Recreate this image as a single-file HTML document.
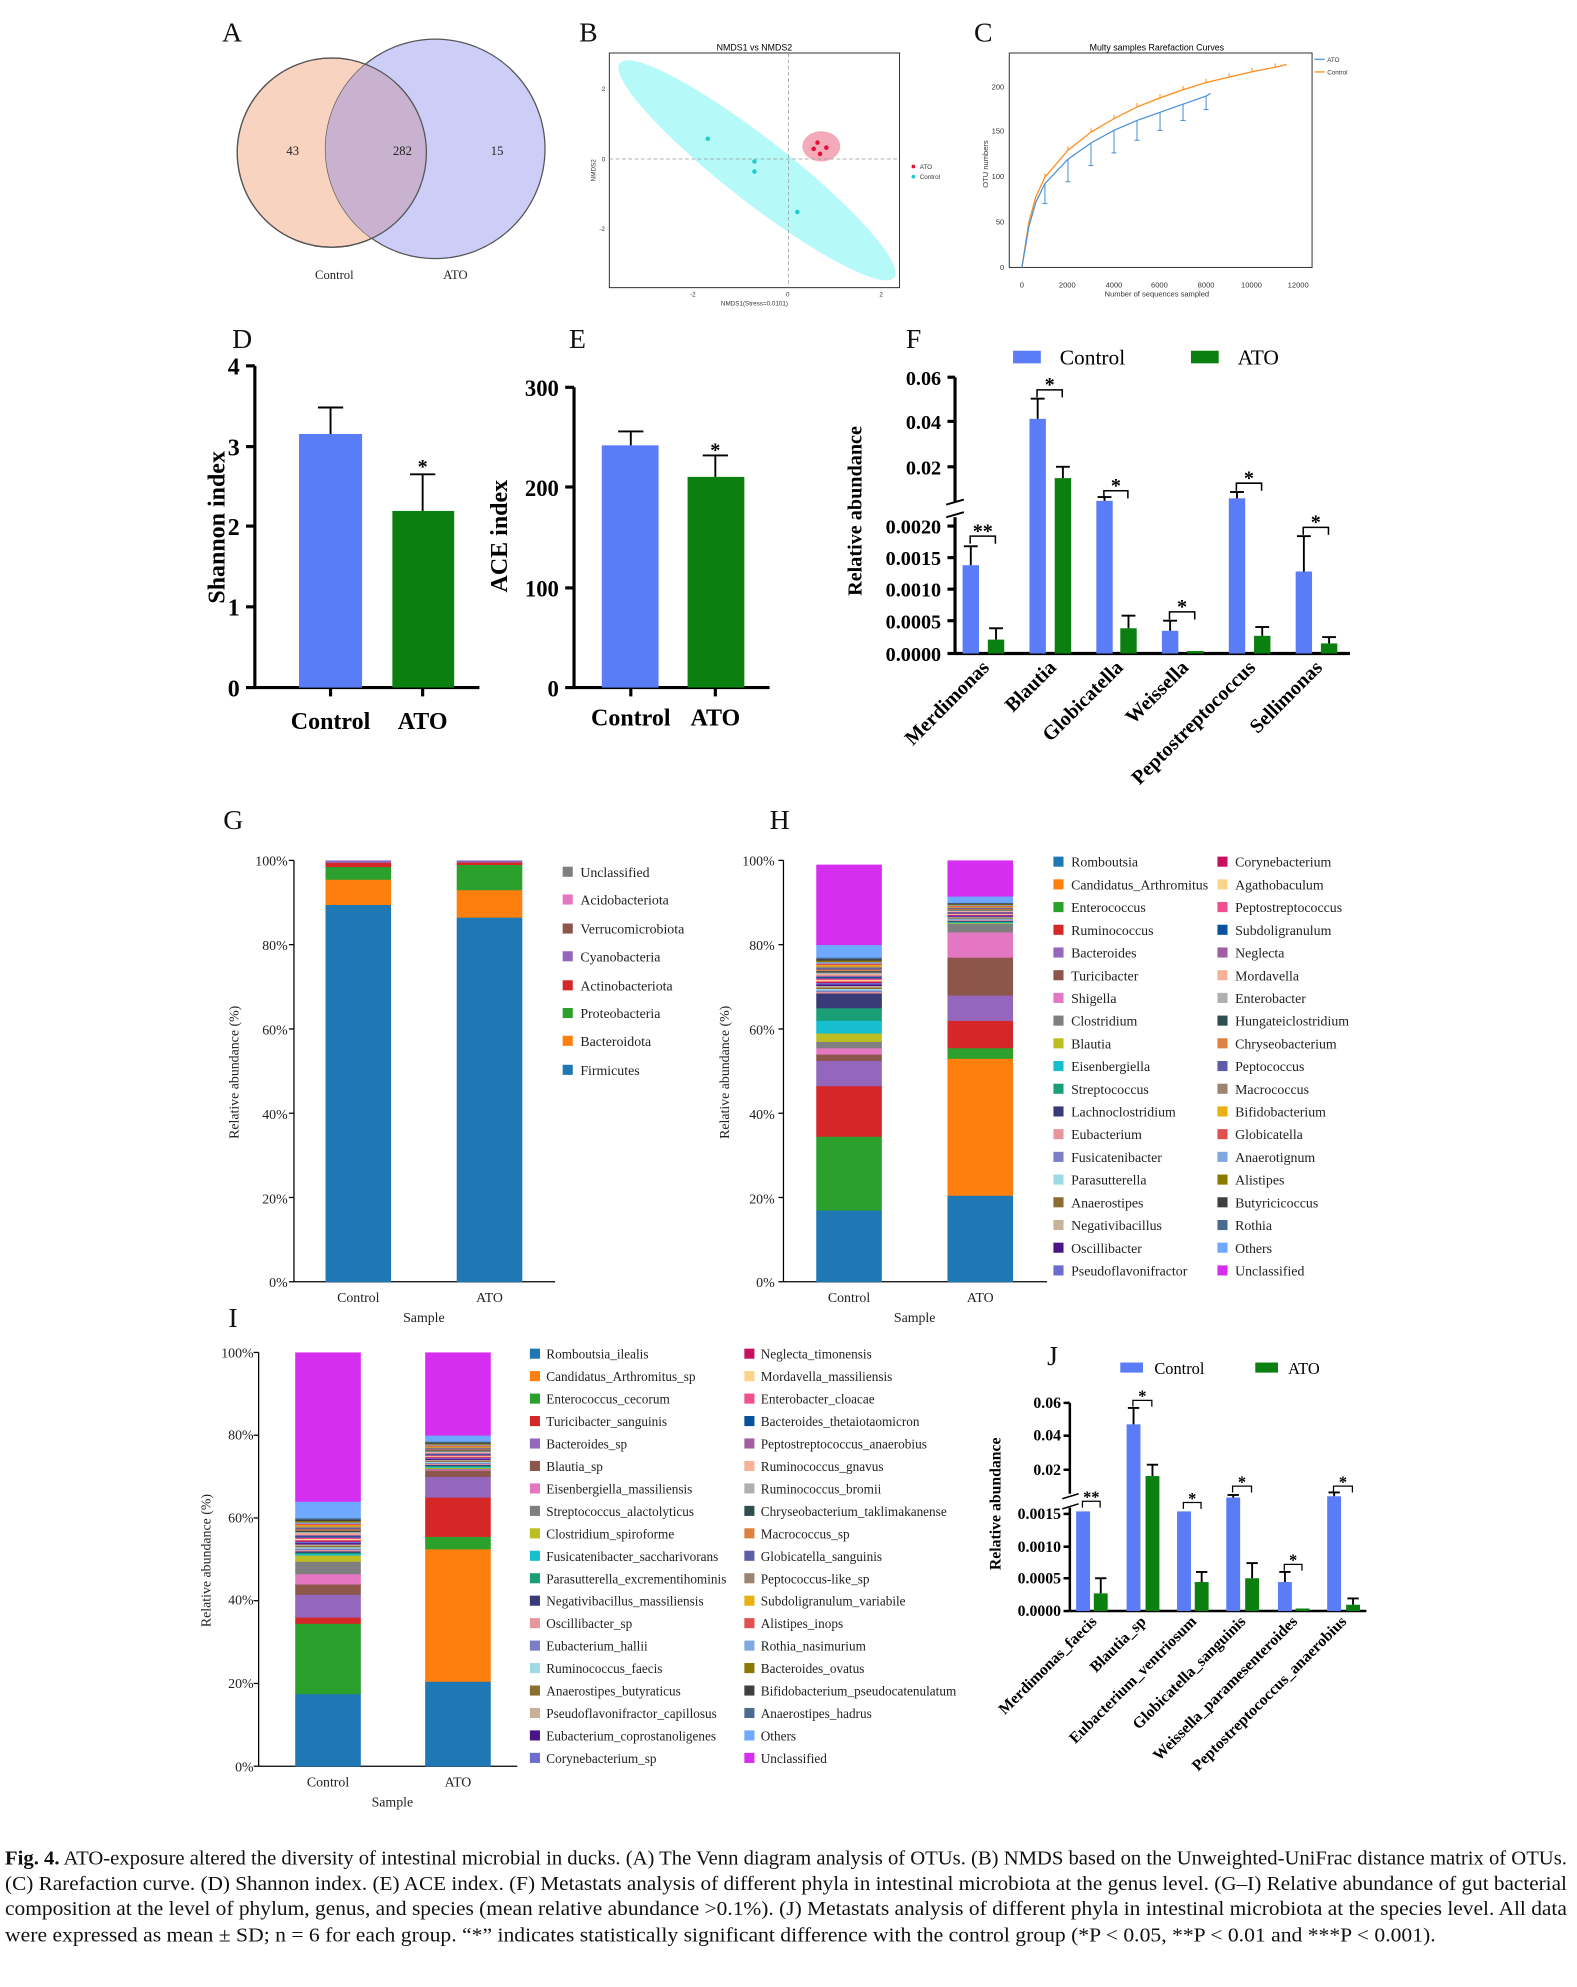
<!DOCTYPE html>
<html><head><meta charset="utf-8">
<style>
html,body{margin:0;padding:0;background:#fff;}
svg{display:block;}
.s{font-family:"Liberation Serif",serif;}
.b{font-family:"Liberation Serif",serif;font-weight:bold;}
.a{font-family:"Liberation Sans",sans-serif;}
</style></head><body>
<svg id="g" width="1577" height="1987" viewBox="0 0 1250 1575" xmlns="http://www.w3.org/2000/svg">
<rect width="1250" height="1575" fill="#fff"/>
<g class="s" font-size="22" fill="#111">
<text x="176" y="33">A</text><text x="459" y="33">B</text><text x="772" y="33">C</text>
<text x="184" y="276">D</text><text x="451" y="276">E</text><text x="718" y="276">F</text>
<text x="177" y="657">G</text><text x="610" y="657">H</text><text x="181" y="1052">I</text><text x="830" y="1082">J</text>
</g>
<circle cx="263" cy="121" r="75" fill="#f8d3bf" stroke="#555" stroke-width="1"/>
<circle cx="345" cy="118" r="87" fill="#c6c9f6" stroke="#555" stroke-width="1" fill-opacity="0.9"/>
<clipPath id="cl"><circle cx="263" cy="121" r="75"/></clipPath>
<circle cx="345" cy="118" r="87" fill="#c9b2cf" clip-path="url(#cl)"/>
<circle cx="263" cy="121" r="75" fill="none" stroke="#555"/>
<g class="s" font-size="10" fill="#222" text-anchor="middle">
<text x="232" y="123">43</text><text x="319" y="123">282</text><text x="394" y="123">15</text>
<text x="265" y="221">Control</text><text x="361" y="221">ATO</text></g>
<rect x="483" y="42" width="230" height="186" fill="#fff" stroke="#333" stroke-width="0.8"/>
<text x="598" y="40" class="a" font-size="7" text-anchor="middle">NMDS1 vs NMDS2</text>
<ellipse cx="600" cy="135" rx="138" ry="25" transform="rotate(38 600 135)" fill="#a8f8f8" fill-opacity="0.85"/>
<ellipse cx="651" cy="116" rx="15" ry="12" fill="#f4aab8"/>
<line x1="625" y1="42" x2="625" y2="228" stroke="#999" stroke-dasharray="3,2" stroke-width="0.6"/>
<line x1="483" y1="126" x2="713" y2="126" stroke="#999" stroke-dasharray="3,2" stroke-width="0.6"/>
<g fill="#22cccc"><circle cx="561" cy="110" r="1.8"/><circle cx="598" cy="128" r="1.8"/><circle cx="598" cy="136" r="1.8"/><circle cx="632" cy="168" r="1.8"/></g>
<g fill="#e0103a"><circle cx="648" cy="113" r="1.8"/><circle cx="655" cy="117" r="1.8"/><circle cx="650" cy="122" r="1.8"/><circle cx="645" cy="118" r="1.8"/></g>
<circle cx="724" cy="132" r="1.5" fill="#e0103a"/><circle cx="724" cy="140" r="1.5" fill="#22cccc"/>
<g class="a" font-size="5" fill="#333"><text x="729" y="134">ATO</text><text x="729" y="142">Control</text>
<text x="477" y="72">2</text><text x="477" y="128">0</text><text x="475" y="183">-2</text>
<text x="547" y="235">-2</text><text x="623" y="235">0</text><text x="697" y="235">2</text>
<text x="598" y="242" text-anchor="middle">NMDS1(Stress=0.0101)</text>
<text transform="translate(472 135) rotate(-90)" text-anchor="middle">NMDS2</text></g>
<rect x="800" y="42" width="240" height="170" fill="#fff" stroke="#333" stroke-width="0.8"/>
<text x="917" y="40" class="a" font-size="7" text-anchor="middle">Multy samples Rarefaction Curves</text>
<g class="a" font-size="6" fill="#333" text-anchor="end">
<text x="796" y="214">0</text><text x="796" y="178">50</text><text x="796" y="142">100</text><text x="796" y="106">150</text><text x="796" y="71">200</text></g>
<g class="a" font-size="6" fill="#333" text-anchor="middle">
<text x="810" y="228">0</text><text x="846" y="228">2000</text><text x="883" y="228">4000</text><text x="919" y="228">6000</text><text x="956" y="228">8000</text><text x="992" y="228">10000</text><text x="1029" y="228">12000</text>
<text x="917" y="235">Number of sequences sampled</text>
<text transform="translate(783 130) rotate(-90)">OTU numbers</text></g>
<line x1="1042" y1="47" x2="1050" y2="47" stroke="#4a90d9"/><line x1="1042" y1="57" x2="1050" y2="57" stroke="#ff8c1a"/>
<g class="a" font-size="5" fill="#333"><text x="1052" y="49">ATO</text><text x="1052" y="59">Control</text></g>
<g id="rare"></g>
<g stroke="#000" stroke-width="2.5" fill="none">
<polyline points="202,290 202,545 380,545"/>
<line x1="195" y1="290" x2="202" y2="290"/><line x1="195" y1="354" x2="202" y2="354"/><line x1="195" y1="417" x2="202" y2="417"/><line x1="195" y1="481" x2="202" y2="481"/><line x1="195" y1="545" x2="202" y2="545"/>
<line x1="262" y1="545" x2="262" y2="552"/><line x1="335" y1="545" x2="335" y2="552"/>
</g>
<rect x="237" y="344" width="50" height="201" fill="#5b7cf7"/>
<rect x="311" y="405" width="49" height="140" fill="#0b7f10"/>
<g stroke="#000" stroke-width="1.5"><line x1="262" y1="344" x2="262" y2="323"/><line x1="252" y1="323" x2="272" y2="323"/><line x1="335" y1="405" x2="335" y2="376"/><line x1="325" y1="376" x2="345" y2="376"/></g>
<g class="b" font-size="19" text-anchor="end"><text x="190" y="297">4</text><text x="190" y="361">3</text><text x="190" y="424">2</text><text x="190" y="488">1</text><text x="190" y="552">0</text></g>
<text x="335" y="375" class="b" font-size="16" text-anchor="middle">*</text>
<g class="b" font-size="19" text-anchor="middle"><text x="262" y="578">Control</text><text x="335" y="578">ATO</text>
<text transform="translate(178 418) rotate(-90)">Shannon index</text></g>
<g stroke="#000" stroke-width="2.5" fill="none">
<polyline points="455,307 455,545 610,545"/>
<line x1="448" y1="307" x2="455" y2="307"/><line x1="448" y1="386" x2="455" y2="386"/><line x1="448" y1="466" x2="455" y2="466"/><line x1="448" y1="545" x2="455" y2="545"/>
<line x1="500" y1="545" x2="500" y2="552"/><line x1="567" y1="545" x2="567" y2="552"/></g>
<rect x="477" y="353" width="45" height="192" fill="#5b7cf7"/>
<rect x="545" y="378" width="45" height="167" fill="#0b7f10"/>
<g stroke="#000" stroke-width="1.5"><line x1="500" y1="353" x2="500" y2="342"/><line x1="490" y1="342" x2="510" y2="342"/><line x1="567" y1="378" x2="567" y2="361"/><line x1="557" y1="361" x2="577" y2="361"/></g>
<g class="b" font-size="18" text-anchor="end"><text x="443" y="314">300</text><text x="443" y="393">200</text><text x="443" y="473">100</text><text x="443" y="552">0</text></g>
<text x="567" y="362" class="b" font-size="16" text-anchor="middle">*</text>
<g class="b" font-size="19" text-anchor="middle"><text x="500" y="575">Control</text><text x="567" y="575">ATO</text>
<text transform="translate(402 425) rotate(-90)">ACE index</text></g>
<g id="F"></g>
<rect x="803" y="278" width="22" height="10" fill="#5b7cf7"/><rect x="944" y="278" width="22" height="10" fill="#0b7f10"/>
<g class="s" font-size="17"><text x="840" y="289">Control</text><text x="981" y="289">ATO</text></g>
<g class="b" font-size="16" text-anchor="end">
<text x="746" y="305">0.06</text><text x="746" y="340">0.04</text><text x="746" y="376">0.02</text>
<text x="746" y="423">0.0020</text><text x="746" y="448">0.0015</text><text x="746" y="473">0.0010</text><text x="746" y="498">0.0005</text><text x="746" y="524">0.0000</text>
<text transform="translate(683 405) rotate(-90)" text-anchor="middle">Relative abundance</text>
<text transform="translate(785 530) rotate(-45)">Merdimonas</text>
<text transform="translate(838 530) rotate(-45)">Blautia</text>
<text transform="translate(891 530) rotate(-45)">Globicatella</text>
<text transform="translate(943 530) rotate(-45)">Weissella</text>
<text transform="translate(996 530) rotate(-45)">Peptostreptococcus</text>
<text transform="translate(1049 530) rotate(-45)">Sellimonas</text></g>
<g id="G"></g>
<g class="s" font-size="11" fill="#222">
<text x="228" y="686" text-anchor="end">100%</text><text x="228" y="753" text-anchor="end">80%</text><text x="228" y="820" text-anchor="end">60%</text><text x="228" y="887" text-anchor="end">40%</text><text x="228" y="954" text-anchor="end">20%</text><text x="228" y="1020" text-anchor="end">0%</text>
<text x="284" y="1032" text-anchor="middle">Control</text><text x="388" y="1032" text-anchor="middle">ATO</text><text x="336" y="1048" text-anchor="middle">Sample</text>
<text transform="translate(189 850) rotate(-90)" text-anchor="middle">Relative abundance (%)</text>
<text x="460" y="695">Unclassified</text><text x="460" y="717">Acidobacteriota</text><text x="460" y="740">Verrucomicrobiota</text><text x="460" y="762">Cyanobacteria</text><text x="460" y="785">Actinobacteriota</text><text x="460" y="807">Proteobacteria</text><text x="460" y="829">Bacteroidota</text><text x="460" y="852">Firmicutes</text>
</g>
<g><rect x="446" y="687" width="8" height="8" fill="#7f7f7f"/><rect x="446" y="709" width="8" height="8" fill="#e377c2"/><rect x="446" y="732" width="8" height="8" fill="#8c564b"/><rect x="446" y="754" width="8" height="8" fill="#9467bd"/><rect x="446" y="777" width="8" height="8" fill="#d62728"/><rect x="446" y="799" width="8" height="8" fill="#2ca02c"/><rect x="446" y="821" width="8" height="8" fill="#ff7f0e"/><rect x="446" y="844" width="8" height="8" fill="#1f77b4"/></g>
<g id="H"></g>
<g class="s" font-size="11" fill="#222">
<text x="614" y="686" text-anchor="end">100%</text><text x="614" y="753" text-anchor="end">80%</text><text x="614" y="820" text-anchor="end">60%</text><text x="614" y="887" text-anchor="end">40%</text><text x="614" y="954" text-anchor="end">20%</text><text x="614" y="1020" text-anchor="end">0%</text>
<text x="673" y="1032" text-anchor="middle">Control</text><text x="777" y="1032" text-anchor="middle">ATO</text><text x="725" y="1048" text-anchor="middle">Sample</text>
<text transform="translate(578 850) rotate(-90)" text-anchor="middle">Relative abundance (%)</text>
</g>
<g id="HL" class="s" font-size="11" fill="#222"></g>
<g id="I"></g>
<g class="s" font-size="11" fill="#222">
<text x="201" y="1076" text-anchor="end">100%</text><text x="201" y="1141" text-anchor="end">80%</text><text x="201" y="1207" text-anchor="end">60%</text><text x="201" y="1272" text-anchor="end">40%</text><text x="201" y="1338" text-anchor="end">20%</text><text x="201" y="1404" text-anchor="end">0%</text>
<text x="260" y="1416" text-anchor="middle">Control</text><text x="363" y="1416" text-anchor="middle">ATO</text><text x="311" y="1432" text-anchor="middle">Sample</text>
<text transform="translate(167 1237) rotate(-90)" text-anchor="middle">Relative abundance (%)</text>
</g>
<g id="IL" class="s" font-size="10.5" fill="#222"></g>
<g id="J"></g>
<rect x="888" y="1080" width="18" height="8" fill="#5b7cf7"/><rect x="995" y="1080" width="18" height="8" fill="#0b7f10"/>
<g class="s" font-size="13"><text x="915" y="1089">Control</text><text x="1021" y="1089">ATO</text></g>
<g class="b" font-size="12.5" text-anchor="end">
<text x="841" y="1116">0.06</text><text x="841" y="1142">0.04</text><text x="841" y="1169">0.02</text>
<text x="841" y="1204">0.0015</text><text x="841" y="1230">0.0010</text><text x="841" y="1255">0.0005</text><text x="841" y="1281">0.0000</text>
<text transform="translate(793 1192) rotate(-90)" text-anchor="middle">Relative abundance</text>
<text transform="translate(870 1286) rotate(-45)">Merdimonas_faecis</text>
<text transform="translate(909 1286) rotate(-45)">Blautia_sp</text>
<text transform="translate(949 1286) rotate(-45)">Eubacterium_ventriosum</text>
<text transform="translate(988 1286) rotate(-45)">Globicatella_sanguinis</text>
<text transform="translate(1029 1286) rotate(-45)">Weissella_paramesenteroides</text>
<text transform="translate(1068 1286) rotate(-45)">Peptostreptococcus_anaerobius</text></g>
<g font-family="Liberation Serif, serif" font-size="16" fill="#111">
<text x="4" y="1478" textLength="1238" lengthAdjust="spacingAndGlyphs"><tspan font-weight="bold">Fig. 4.</tspan> ATO-exposure altered the diversity of intestinal microbial in ducks. (A) The Venn diagram analysis of OTUs. (B) NMDS based on the Unweighted-UniFrac distance matrix of OTUs.</text>
<text x="4" y="1498" textLength="1238" lengthAdjust="spacingAndGlyphs">(C) Rarefaction curve. (D) Shannon index. (E) ACE index. (F) Metastats analysis of different phyla in intestinal microbiota at the genus level. (G–I) Relative abundance of gut bacterial</text>
<text x="4" y="1518" textLength="1238" lengthAdjust="spacingAndGlyphs">composition at the level of phylum, genus, and species (mean relative abundance &gt;0.1%). (J) Metastats analysis of different phyla in intestinal microbiota at the species level. All data</text>
<text x="4" y="1539" textLength="1134" lengthAdjust="spacingAndGlyphs">were expressed as mean ± SD; n = 6 for each group. “*” indicates statistically significant difference with the control group (*P &lt; 0.05, **P &lt; 0.01 and ***P &lt; 0.001).</text>
</g>
</svg>
<script>
var NS="http://www.w3.org/2000/svg";
function el(p,t,a){var e=document.createElementNS(NS,t);for(var k in a)e.setAttribute(k,a[k]);document.getElementById(p).appendChild(e);return e;}
function R(p,x,y,w,h,f){el(p,"rect",{x:x,y:y,width:w,height:h,fill:f});}
function L(p,x1,y1,x2,y2,w){el(p,"line",{x1:x1,y1:y1,x2:x2,y2:y2,stroke:"#000","stroke-width":w||1});}
function T(p,x,y,s,fs){var e=el(p,"text",{x:x,y:y,"text-anchor":"middle","font-size":fs,"font-family":"Liberation Serif,serif","font-weight":"bold"});e.textContent=s;}
var cx=function(v){return 810+v*0.01825},cy=function(v){return 212-v*0.715};
var o=[[0,0],[300,50],[600,78],[1000,100],[2000,130],[3000,150],[4000,165],[5000,178],[6000,188],[7000,197],[8000,205],[9000,211],[10000,217],[11000,222],[11500,225]];
var b=[[0,0],[300,45],[600,72],[1000,93],[2000,120],[3000,138],[4000,152],[5000,163],[6000,172],[7000,181],[8000,190],[8200,193]];
el("rare","polyline",{points:o.map(function(p){return cx(p[0])+","+cy(p[1])}).join(" "),fill:"none",stroke:"#ff8c1a","stroke-width":1});
el("rare","polyline",{points:b.map(function(p){return cx(p[0])+","+cy(p[1])}).join(" "),fill:"none",stroke:"#4a90d9","stroke-width":1});
[1000,2000,3000,4000,5000,6000,7000,8000].forEach(function(x,i){var y=b.filter(function(p){return p[0]==x})[0][1];var e=[22,25,25,25,22,20,18,15][i];
el("rare","line",{x1:cx(x),y1:cy(y),x2:cx(x),y2:cy(y-e),stroke:"#4a90d9","stroke-width":0.8});el("rare","line",{x1:cx(x)-2,y1:cy(y-e),x2:cx(x)+2,y2:cy(y-e),stroke:"#4a90d9","stroke-width":0.8});});
[1000,2000,3000,4000,5000,6000,7000,8000,9000,10000,11000].forEach(function(x){var y=o.filter(function(p){return p[0]==x})[0][1];el("rare","line",{x1:cx(x),y1:cy(y),x2:cx(x),y2:cy(y)-3,stroke:"#ff8c1a","stroke-width":0.8});});
var BL="#5b7cf7",GR="#0b7f10";
function bar(p,x,w,top,base,err,col){R(p,x,top,w,base-top,col);if(err!=null){L(p,x+w/2,top,x+w/2,err,1.5);L(p,x+1,err,x+w-1,err,1.5);}}
L("F",757,299,757,398,2.5);L("F",757,410,757,518,2.5);L("F",757,518,1070,518,2.5);
[299,334,370].forEach(function(y){L("F",751,y,757,y,2.5)});[417,442,467,492,518].forEach(function(y){L("F",751,y,757,y,2.5)});
L("F",750,400,764,396,1.5);L("F",750,410,764,406,1.5);
var fb=[[763,448,433,783,507,498],[816,332,316,836,379,370],[869,397,394,888,498,488],[921,500,492,941,516,null],[974,395,390,994,504,497],[1027,453,425,1047,510,505]];
fb.forEach(function(g){bar("F",g[0],13,g[1],518,g[2],BL);bar("F",g[3],13,g[4],518,g[5],GR);});
[[769,789,425,"**"],[822,842,309,"*"],[875,894,389,"*"],[927,947,485,"*"],[980,1000,383,"*"],[1033,1053,418,"*"]].forEach(function(s){
el("F","polyline",{points:s[0]+","+(s[2]+6)+" "+s[0]+","+s[2]+" "+s[1]+","+s[2]+" "+s[1]+","+(s[2]+6),fill:"none",stroke:"#000","stroke-width":1.2});T("F",(s[0]+s[1])/2,s[2]+1,s[3],16);});
function stack(p,x,w,y0,y100,segs){var acc=0;segs.forEach(function(s){var h=s[0]*(y0-y100)/100;if(h<=0){return;}R(p,x,y0-(acc+s[0])*(y0-y100)/100,w,h+0.3,s[1]);acc+=s[0];});}
function axes(p,x,y0,y100,x2){L(p,x,y100,x,y0,1);L(p,x,y0,x2,y0,1);for(var i=0;i<=5;i++){var y=y0-i*(y0-y100)/5;L(p,x-4,y,x,y,1);}}
axes("G",233,1016,682,440);
stack("G",258,52,1016,682,[[89.5,"#1f77b4"],[6,"#ff7f0e"],[3,"#2ca02c"],[1,"#d62728"],[0.5,"#9467bd"]]);
stack("G",362,52,1016,682,[[86.5,"#1f77b4"],[6.5,"#ff7f0e"],[6,"#2ca02c"],[0.6,"#d62728"],[0.4,"#9467bd"]]);
var hc=["#1f77b4","#ff7f0e","#2ca02c","#d62728","#9467bd","#8c564b","#e377c2","#7f7f7f","#bcbd22","#17becf","#1a9e77","#393b79","#e7969c","#7b7fc8","#9edae5","#8c6d31","#c7b299","#4a1486","#6b6ecf","#c7105f","#fdd38a","#f0508f","#08519c","#a25fa0","#f7b295","#b0b0b0","#2f4f4f","#e08040","#5d5da8","#9c8470","#e8b010","#e05050","#80a8e0","#8c7a00","#404040","#4a6a90","#6fa8ff","#d62ef0"];
var hn=["Romboutsia","Candidatus_Arthromitus","Enterococcus","Ruminococcus","Bacteroides","Turicibacter","Shigella","Clostridium","Blautia","Eisenbergiella","Streptococcus","Lachnoclostridium","Eubacterium","Fusicatenibacter","Parasutterella","Anaerostipes","Negativibacillus","Oscillibacter","Pseudoflavonifractor","Corynebacterium","Agathobaculum","Peptostreptococcus","Subdoligranulum","Neglecta","Mordavella","Enterobacter","Hungateiclostridium","Chryseobacterium","Peptococcus","Macrococcus","Bifidobacterium","Globicatella","Anaerotignum","Alistipes","Butyricicoccus","Rothia","Others","Unclassified"];
axes("H",621,1016,682,830);
function mk(main,restTot,oth,un){var a=main.slice();var n=36-main.length;for(var i=0;i<n;i++)a.push(restTot/n);a.push(oth);a.push(un);return a.map(function(v,i){return [v,hc[i]]});}
stack("H",647,52,1016,682,mk([17,0,17.5,12,6,1.5,1.5,1.5,2,3,3,3.5],8.5,3,19));
stack("H",751,52,1016,682,mk([20.5,32.5,2.5,6.5,6,9,6,2],5,1.5,8.5));
hn.forEach(function(n,i){var c=i<19?0:1,r=i%19;var x=c?965:835,y=686+r*18;R("HL",x,y-7,8,8,hc[i]);var t=el("HL","text",{x:x+14,y:y+1});t.textContent=n;});
var inames=["Romboutsia_ilealis","Candidatus_Arthromitus_sp","Enterococcus_cecorum","Turicibacter_sanguinis","Bacteroides_sp","Blautia_sp","Eisenbergiella_massiliensis","Streptococcus_alactolyticus","Clostridium_spiroforme","Fusicatenibacter_saccharivorans","Parasutterella_excrementihominis","Negativibacillus_massiliensis","Oscillibacter_sp","Eubacterium_hallii","Ruminococcus_faecis","Anaerostipes_butyraticus","Pseudoflavonifractor_capillosus","Eubacterium_coprostanoligenes","Corynebacterium_sp","Neglecta_timonensis","Mordavella_massiliensis","Enterobacter_cloacae","Bacteroides_thetaiotaomicron","Peptostreptococcus_anaerobius","Ruminococcus_gnavus","Ruminococcus_bromii","Chryseobacterium_taklimakanense","Macrococcus_sp","Globicatella_sanguinis","Peptococcus-like_sp","Subdoligranulum_variabile","Alistipes_inops","Rothia_nasimurium","Bacteroides_ovatus","Bifidobacterium_pseudocatenulatum","Anaerostipes_hadrus","Others","Unclassified"];
var ic=hc;
inames.forEach(function(n,i){var c=i<19?0:1,r=i%19;var x=c?590:420,y=1076+r*17.8;R("IL",x,y-7,8,8,ic[i]);var t=el("IL","text",{x:x+13,y:y+1});t.textContent=n;});
axes("I",205,1400,1072,410);
function mk2(main,restTot,oth,un){var a=main.slice();var n=36-main.length;for(var i=0;i<n;i++)a.push(restTot/n);a.push(oth);a.push(un);return a.map(function(v,i){return [v,ic[i]]});}
stack("I",234,52,1400,1072,mk2([17.5,0,17,1.5,5.5,2.5,2.5,3,1.5],9,4,36));
stack("I",337,52,1400,1072,mk2([20.5,32,3,9.5,5,1.5],7,1.5,20));
L("J",848,1112,848,1184,2);L("J",848,1195,848,1277,2);L("J",848,1277,1083,1277,2);
[1112,1138,1165].forEach(function(y){L("J",843,y,848,y,2)});[1200,1226,1251,1277].forEach(function(y){L("J",843,y,848,y,2)});
L("J",842,1188,855,1184,1.2);L("J",842,1196,855,1192,1.2);
var jb=[[853,1198,null,867,1263,1251],[893,1129,1116,908,1170,1161],[933,1198,null,947,1254,1246],[972,1187,1185,987,1251,1239],[1013,1254,1246,1027,1275,null],[1052,1186,1183,1067,1272,1267]];
jb.forEach(function(g){bar("J",g[0],11,g[1],1277,g[2],BL);bar("J",g[3],11,g[4],1277,g[5],GR);});
[[858,872,1190,"**"],[898,913,1110,"*"],[938,952,1191,"*"],[977,992,1178,"*"],[1018,1032,1240,"*"],[1057,1072,1178,"*"]].forEach(function(s){
el("J","polyline",{points:s[0]+","+(s[2]+5)+" "+s[0]+","+s[2]+" "+s[1]+","+s[2]+" "+s[1]+","+(s[2]+5),fill:"none",stroke:"#000","stroke-width":1});T("J",(s[0]+s[1])/2,s[2]+1,s[3],13);});
</script>
</body></html>
